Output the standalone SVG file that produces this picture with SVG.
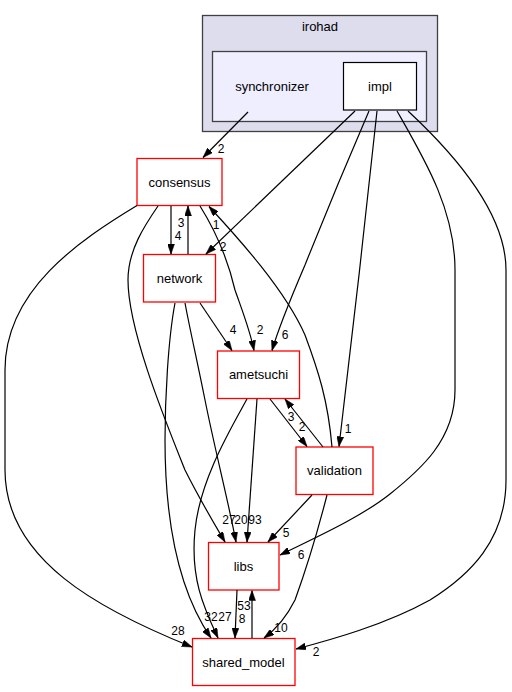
<svg xmlns="http://www.w3.org/2000/svg" width="512" height="692" viewBox="0 0 512 692">
<style>
.cl{stroke:#404040;stroke-width:1.3}
.nd{fill:#ffffff;stroke:#ff0000;stroke-width:1.3}
.t{font-family:"Liberation Sans",Arial,sans-serif;font-size:13px;fill:#000;text-anchor:middle}
.el{font-family:"Liberation Sans",Arial,sans-serif;font-size:12px;fill:#000;text-anchor:middle}
.e{fill:none;stroke:#000;stroke-width:1.2;marker-end:url(#ah)}
</style>
<defs>
<marker id="ah" viewBox="0 0 10 7" refX="10" refY="3.5" markerWidth="10" markerHeight="7" markerUnits="userSpaceOnUse" orient="auto">
<path d="M0,0 L10,3.5 L0,7 z" fill="#000" stroke="#000" stroke-width="0.5"/>
</marker>
</defs>
<rect width="512" height="692" fill="#ffffff"/>
<g id="cluster_irohad">
<rect class="cl" x="202.5" y="15.5" width="235" height="116" fill="#ddddee"/>
<text class="t" x="320" y="31">irohad</text>
</g>
<g id="cluster_synchronizer">
<rect class="cl" x="212.5" y="51.5" width="214" height="70" fill="#eeeeff"/>
<text class="t" x="272" y="90.5">synchronizer</text>
</g>
<g id="node_impl">
<rect x="343.5" y="62.5" width="73" height="47.5" fill="#ffffff" stroke="#000" stroke-width="1.2"/>
<text class="t" x="380" y="90.5">impl</text>
</g>
<g id="node_consensus">
<rect class="nd" x="137" y="158.5" width="85" height="47"/>
<text class="t" x="179.5" y="186.5">consensus</text>
</g>
<g id="node_network">
<rect class="nd" x="143.5" y="254.5" width="72" height="47.5"/>
<text class="t" x="179.5" y="282.5">network</text>
</g>
<g id="node_ametsuchi">
<rect class="nd" x="217.5" y="351" width="82" height="47.5"/>
<text class="t" x="258.5" y="379">ametsuchi</text>
</g>
<g id="node_validation">
<rect class="nd" x="296" y="447" width="77" height="47.5"/>
<text class="t" x="334.5" y="475">validation</text>
</g>
<g id="node_libs">
<rect class="nd" x="208.5" y="542.5" width="70.5" height="47.5"/>
<text class="t" x="243.5" y="570.5">libs</text>
</g>
<g id="node_shared_model">
<rect class="nd" x="192.5" y="638.5" width="102.5" height="47"/>
<text class="t" x="243.5" y="666.5">shared_model</text>
</g>
<g id="connectors">
<path class="e" d="M248,112 L203,157.5"/>
<text class="el" x="221" y="153">2</text>
<path class="e" d="M355,111 L206,254"/>
<text class="el" x="223" y="251">2</text>
<path class="e" d="M369,111 C350,155 325,215 305,265 C290,300 278,330 272,350.5"/>
<text class="el" x="285" y="339">6</text>
<path class="e" d="M377,111 C370,180 345,400 339,446.5"/>
<text class="el" x="348" y="433">1</text>
<path class="e" d="M397,111 C425,160 455,210 455,270 L455,390 C455,440 420,470 390,494 C360,518 310,540 280,555"/>
<text class="el" x="301" y="559">6</text>
<path class="e" d="M408,111 C450,150 506,210 506,270 L506,480 C506,540 470,575 430,600 C385,625 330,640 296,649"/>
<text class="el" x="316" y="656">2</text>
<path class="e" d="M171,206 L171,254"/>
<text class="el" x="178" y="240">4</text>
<path class="e" d="M188,254 L188,206"/>
<text class="el" x="181" y="227">3</text>
<path class="e" d="M200,206 C215,230 228,260 235,290 C242,310 250,330 254,350.5"/>
<text class="el" x="260" y="334">2</text>
<path class="e" d="M158,206 C145,225 128,250 128,280 C128,330 165,420 185,470 C200,500 215,525 225,542"/>
<text class="el" x="229" y="524">27</text>
<path class="e" d="M137,205.5 C80,240 5,290 5,370 L5,470 C5,560 100,610 192,647"/>
<text class="el" x="178" y="635">28</text>
<path class="e" d="M200,303 L232,350.5"/>
<text class="el" x="233" y="334">4</text>
<path class="e" d="M185,303 C190,330 197,360 205,400 C215,450 228,500 236,542"/>
<text class="el" x="241" y="524">20</text>
<path class="e" d="M175,303 C168,340 165,400 165,440 C165,520 178,590 211,638"/>
<text class="el" x="211" y="620.5">32</text>
<path class="e" d="M247,399 C230,430 200,480 195,530 C190,580 205,610 218,638"/>
<text class="el" x="225" y="620.5">27</text>
<path class="e" d="M270,399 L307,446.5"/>
<text class="el" x="302" y="431">2</text>
<path class="e" d="M323,447 L285,399"/>
<text class="el" x="291" y="421">3</text>
<path class="e" d="M332,447 C328,400 318,370 305,335 C285,290 240,240 209,206.5"/>
<text class="el" x="216" y="229">1</text>
<path class="e" d="M257,399 L247,542"/>
<text class="el" x="255" y="524">93</text>
<path class="e" d="M312,495 L268,542"/>
<text class="el" x="286" y="537">5</text>
<path class="e" d="M327,495 C318,530 307,567 295,600 C285,620 275,630 264,638"/>
<text class="el" x="281" y="632">10</text>
<path class="e" d="M237,590 L235,638"/>
<text class="el" x="242" y="623">8</text>
<path class="e" d="M252,638 L252,590.5"/>
<text class="el" x="244" y="610">53</text>
</g>
</svg>
